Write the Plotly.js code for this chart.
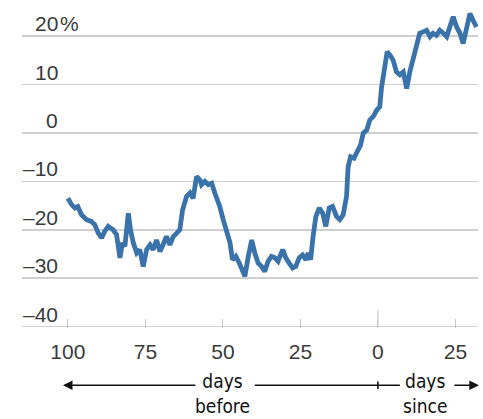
<!DOCTYPE html>
<html>
<head>
<meta charset="utf-8">
<script src="https://cdn.plot.ly/plotly-3.0.1.min.js"></script>
<style>html,body{margin:0;padding:0;background:#fff;}#chart{width:483px;height:419px;}</style>
</head>
<body>
<div id="chart"></div>
<script>
// Days relative to event (negative = days before, positive = days since)
const days = [-100,-98.8,-97.7,-96.8,-95.6,-94,-92.4,-91.3,-90.2,-89.1,-88.1,-87,-85.4,-84.3,-83.2,-82.4,-81.6,-80.5,-79.8,-78.9,-77.8,-76.8,-75.7,-74.6,-73.5,-72.5,-71.4,-70.3,-69.3,-68.2,-67.1,-66,-64.9,-63.9,-63,-61.7,-60.6,-59.6,-58.5,-57.4,-56.9,-55.8,-54.7,-53.6,-52.6,-51,-49.9,-48.8,-47.7,-46.9,-45.8,-44.7,-43.6,-42.9,-41.8,-40.7,-39.7,-38.6,-37.5,-36.5,-35.4,-34.3,-33.2,-32.2,-30.7,-29.7,-28.6,-27.5,-26.5,-25.4,-24.3,-23.2,-22.5,-21.7,-20.9,-20,-18.9,-17.8,-16.8,-15.7,-14.6,-13.3,-12.3,-11.2,-10.1,-9.6,-8.8,-7.7,-6.7,-5.6,-4.7,-3.6,-2.6,-1.5,-0.4,0.6,1.2,2.3,3,3.9,4.9,6,7.1,8.2,9.3,10.3,11.4,12.5,13.5,14.6,15.7,16.8,17.8,18.9,20,21.1,22.2,23.2,24.3,25.4,26.5,27.5,28.6,29.7,30.7,31.8];
// Percent change
const pctChange = [-13.5,-14.8,-15.5,-15.2,-16.9,-17.9,-18.3,-19,-20.7,-21.7,-20.3,-19.3,-20,-21,-25.8,-22.7,-23.4,-16.6,-20,-22.7,-24.8,-24.1,-27.6,-24.1,-23.1,-24.1,-22.1,-24.5,-23.1,-21.4,-23.1,-21.4,-20.7,-20,-15.9,-13.1,-12.4,-13.5,-9,-9.7,-10.7,-10,-10.7,-10.4,-12.4,-15.2,-17.9,-20.7,-22.7,-26.2,-25.5,-26.9,-28.9,-29.6,-25.5,-22.1,-24.8,-26.9,-27.6,-28.6,-26.5,-25.5,-25.8,-26.5,-24.1,-25.8,-26.9,-27.9,-27.6,-25.8,-25.2,-26.2,-24.8,-26.2,-21.4,-17.3,-15.5,-16.6,-19.3,-15.5,-15.2,-17.3,-17.9,-16.9,-13.1,-7,-4.9,-5.2,-3.9,-2.5,0,0.6,2.7,3.4,4.7,5.4,9.5,15.1,16.8,16.1,15.1,12.6,12,12.6,9.2,12.6,15.1,17.8,20.6,20.9,21.2,19.9,20.6,20.2,21.2,20.6,19.9,21.9,24,21.9,20.6,18.5,21.2,24.7,23.3,21.9];

const xTickVals = [-100,-75,-50,-25,0,25];
const xTickText = ['100','75','50','25','0','25'];
const yTickVals = [-40,-30,-20,-10,0,10,20];
const yTickText = ['\u201340','\u201330','\u201320','\u201310','0','10','20'];

const labelFont = {family:'"Liberation Sans", Arial, sans-serif', size:21, color:'#3a3a3a'};
const noteFont = {family:'"Liberation Sans Narrow", "DejaVu Sans Condensed", "Roboto Condensed", Roboto, sans-serif', size:19, color:'#111'};

const annotations = yTickVals.map((v,i)=>({
  xref:'paper', yref:'y', x:0.083, y:v, xanchor:'right', yanchor:'bottom',
  text:yTickText[i], showarrow:false, font:labelFont, yshift:-1
}));
annotations.push({xref:'paper', yref:'y', x:0.083, y:20, xanchor:'left', yanchor:'bottom', text:'%', showarrow:false, font:labelFont, yshift:-1, xshift:-2});

const arrowY = -0.181;
// left arrow
annotations.push({xref:'x', yref:'paper', x:-101.6, y:arrowY, ax:-58.4, axref:'x', ay:0, ayref:'pixel', text:'', showarrow:true, arrowhead:2, arrowsize:1.2, arrowwidth:1.6, arrowcolor:'#111'});
// right arrow
annotations.push({xref:'x', yref:'paper', x:32.6, y:arrowY, ax:24.2, axref:'x', ay:0, ayref:'pixel', text:'', showarrow:true, arrowhead:2, arrowsize:1.2, arrowwidth:1.6, arrowcolor:'#111'});
annotations.push({xref:'x', yref:'paper', x:-50.2, y:arrowY, text:'days<br>before', showarrow:false, font:noteFont, yanchor:'top', yshift:16, align:'center', borderpad:0});
annotations.push({xref:'x', yref:'paper', x:15.2, y:arrowY, text:'days<br>since', showarrow:false, font:noteFont, yanchor:'top', yshift:16, align:'center', borderpad:0});

const shapes = [
  {type:'line', xref:'x', yref:'paper', x0:-39.7, x1:7.1, y0:arrowY, y1:arrowY, line:{color:'#111', width:1.6}},
  {type:'line', xref:'x', yref:'paper', x0:0, x1:0, y0:arrowY-0.012, y1:arrowY+0.012, line:{color:'#111', width:1.6}},
  {type:'line', xref:'x', yref:'y', x0:0, x1:0, y0:-40, y1:-36.6, line:{color:'#c8c8c8', width:1.2}}
];

const trace = {
  x: days, y: pctChange, type:'scatter', mode:'lines',
  line:{color:'#3a72aa', width:4.8, shape:'linear'}, hoverinfo:'skip'
};

const layout = {
  width:483, height:419,
  margin:{l:22, r:5, t:12, b:91},
  paper_bgcolor:'#fff', plot_bgcolor:'#fff',
  showlegend:false,
  xaxis:{range:[-114.8, 32.3], tickvals:xTickVals, ticktext:xTickText, ticks:'inside', ticklen:9, tickwidth:1.2, tickcolor:'#c8c8c8',
         showgrid:false, zeroline:false, showline:false, tickfont:{family:'"Liberation Sans", Arial, sans-serif', size:21, color:'#3a3a3a'}, ticklabelstandoff:9},
  yaxis:{range:[-40.3, 25], tickvals:yTickVals, showticklabels:false, showgrid:true, gridcolor:'#cfcfcf', gridwidth:1.5, zeroline:false, showline:false, ticks:''},
  annotations: annotations,
  shapes: shapes
};

Plotly.newPlot('chart', [trace], layout, {staticPlot:true, displayModeBar:false});
</script>
</body>
</html>
